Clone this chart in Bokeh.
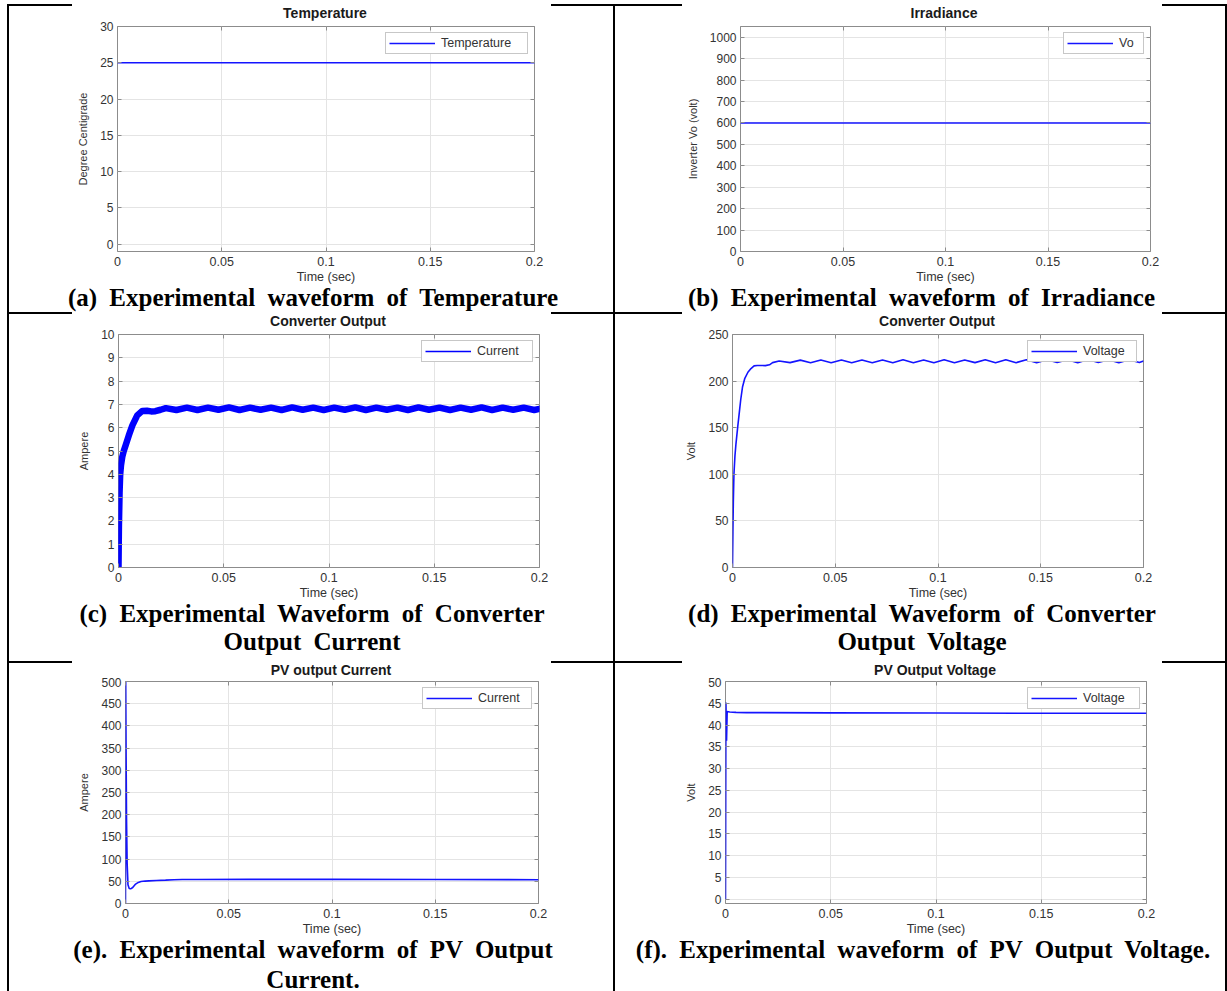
from bokeh.plotting import figure
from bokeh.models import FixedTicker, LinearAxis, Legend, LegendItem, Div, Range1d
from bokeh.layouts import row, column
from bokeh.embed import file_html
from bokeh.resources import INLINE

# ---------------- data ----------------
time_ticks = [0, 0.05, 0.1, 0.15, 0.2]
time_tick_labels = ["0", "0.05", "0.1", "0.15", "0.2"]

temp_t = [0.0, 0.2]
temp_v = [25.0, 25.0]

irr_t = [0.0, 0.2]
irr_v = [600.0, 600.0]

conv_i_t = [0.0, 0.0002, 0.0005, 0.0008, 0.0012, 0.0018, 0.0025, 0.0034, 0.0049, 0.0066,
            0.0089, 0.0113, 0.0135, 0.0155, 0.0175, 0.0200,
            0.0225, 0.0275, 0.0325, 0.0375, 0.0425, 0.0475, 0.0525, 0.0575, 0.0625, 0.0675,
            0.0725, 0.0775, 0.0825, 0.0875, 0.0925, 0.0975, 0.1025, 0.1075, 0.1125, 0.1175,
            0.1225, 0.1275, 0.1325, 0.1375, 0.1425, 0.1475, 0.1525, 0.1575, 0.1625, 0.1675,
            0.1725, 0.1775, 0.1825, 0.1875, 0.1925, 0.1975, 0.2]
conv_i_v = [0.0, 1.8, 3.2, 4.0, 4.4, 4.75, 5.0, 5.25, 5.67, 6.1,
            6.53, 6.72, 6.73, 6.70, 6.71, 6.77,
            6.84, 6.76, 6.86, 6.76, 6.86, 6.77, 6.87, 6.76, 6.86, 6.77,
            6.86, 6.76, 6.87, 6.77, 6.86, 6.76, 6.86, 6.77, 6.87, 6.76,
            6.86, 6.77, 6.86, 6.76, 6.87, 6.77, 6.86, 6.76, 6.86, 6.77,
            6.87, 6.76, 6.86, 6.77, 6.86, 6.76, 6.81]

conv_v_t = [0.0, 0.0002, 0.0004, 0.0007, 0.0012, 0.0017, 0.0025, 0.0032, 0.0040, 0.0049,
            0.0060, 0.0075, 0.0090, 0.0105, 0.0120, 0.0140, 0.0160, 0.0180, 0.0195, 0.0227,
            0.028, 0.033, 0.038, 0.043, 0.048, 0.053, 0.058, 0.063, 0.068, 0.073,
            0.078, 0.083, 0.088, 0.093, 0.098, 0.103, 0.108, 0.113, 0.118, 0.123,
            0.128, 0.133, 0.138, 0.143, 0.148, 0.153, 0.158, 0.163, 0.168, 0.173,
            0.178, 0.183, 0.188, 0.193, 0.198, 0.2]
conv_v_v = [0.0, 38, 70, 100, 120, 133, 150, 164, 180, 194,
            203, 209.5, 213.5, 216.3, 216.8, 216.8, 216.6, 217.5, 219.8, 221.6,
            219.8, 222.5, 219.6, 222.6, 219.7, 222.7, 219.6, 222.6, 219.7, 222.7,
            219.6, 222.8, 219.7, 222.7, 219.6, 222.8, 219.7, 222.7, 219.8, 222.8,
            219.7, 222.9, 219.8, 223.0, 219.8, 223.0, 219.9, 223.0, 219.8, 223.1,
            219.9, 223.0, 219.8, 223.0, 219.9, 221.5]

pv_i_t = [0.0, 0.0001, 0.0003, 0.0005, 0.0008, 0.0012, 0.0018, 0.0025, 0.0035, 0.0049,
          0.0062, 0.0075, 0.0095, 0.0113, 0.0150, 0.0194, 0.0235, 0.0275, 0.035, 0.06,
          0.1, 0.15, 0.2]
pv_i_v = [0.0, 505, 330, 190, 90, 42, 34, 33, 36, 43.7,
          47.5, 49.5, 50.5, 51.0, 51.8, 52.6, 53.5, 54.0, 54.0, 54.3,
          54.5, 54.2, 53.5]

pv_v_t = [0.0, 0.0002, 0.0005, 0.0008, 0.002, 0.005, 0.01, 0.05, 0.1, 0.15, 0.2]
pv_v_v = [0.0, 45.2, 36.4, 43.1, 43.0, 42.9, 42.85, 42.8, 42.75, 42.7, 42.7]

assert len(conv_i_t) == len(conv_i_v)
assert len(conv_v_t) == len(conv_v_v)
assert len(pv_i_t) == len(pv_i_v)
assert len(pv_v_t) == len(pv_v_v)

# ---------------- styling / geometry ----------------
BLUE = "#1414ff"
AX_COLOR = "#8c8c8c"
GRID_COLOR = "#e4e4e4"
TXT = "#333333"
SANS = "Liberation Sans"

PAGE_W = 1227
LEFT_W, RIGHT_W = 604, 610
ROW_H = [306, 347, 328]


def centered_html(text_html, W, cx, font, size, weight, lh, color, shift=0, word_spacing=0):
    d = cx - W / 2.0
    pad = f"padding-left:{2 * d:.1f}px;" if d >= 0 else f"padding-right:{-2 * d:.1f}px;"
    return (f'<div style="box-sizing:border-box;width:{W}px;{pad}text-align:center;'
            f"font-family:'{font}';font-size:{size}px;font-weight:{weight};"
            f'line-height:{lh}px;color:{color};white-space:nowrap;word-spacing:{word_spacing}px;'
            f'position:relative;top:{shift}px;">{text_html}</div>')


def make_cell(W, H, title_h, title_lh, cap_top, cap_lh, cap_shift, frame, yrange, yticks,
              ylabel, title, title_cx, captions, cap_cx, series_t, series_v,
              legend_label, legend_w, band=False):
    fl, ft, fr, fb = frame          # frame edges in cell coordinates
    F = cap_top - title_h            # figure height
    p = figure(width=W, height=F, x_range=Range1d(0, 0.2), y_range=Range1d(*yrange),
               output_backend="svg", toolbar_location=None, title=None,
               min_border_left=fl, min_border_right=W - fr,
               min_border_top=ft - title_h, min_border_bottom=F - (fb - title_h),
               margin=0)
    p.background_fill_color = "white"
    p.border_fill_color = "white"
    p.outline_line_color = AX_COLOR
    p.outline_line_width = 1

    xa = p.xaxis[0]
    ya = p.yaxis[0]
    for ax, ticks, labels in ((xa, time_ticks, time_tick_labels),
                              (ya, yticks, [str(v) for v in yticks])):
        ax.ticker = FixedTicker(ticks=ticks)
        ax.major_label_overrides = {t: l for t, l in zip(ticks, labels)}
        ax.major_tick_in = 4
        ax.major_tick_out = 0
        ax.major_tick_line_color = AX_COLOR
        ax.minor_tick_line_color = None
        ax.axis_line_color = None
        ax.major_label_text_font = SANS
        ax.major_label_text_color = TXT
        ax.axis_label_text_font = SANS
        ax.axis_label_text_font_style = "normal"
        ax.axis_label_text_color = TXT
    xa.major_label_text_font_size = "12.5px"
    ya.major_label_text_font_size = "12px"
    xa.axis_label_text_font_size = "12.5px"
    ya.axis_label_text_font_size = "11px"
    xa.major_label_standoff = 5
    ya.major_label_standoff = 4
    xa.axis_label = "Time (sec)"
    xa.axis_label_standoff = 1
    ya.axis_label = ylabel
    ya.axis_label_standoff = 8

    for ticks, loc in ((time_ticks, "above"), (yticks, "right")):
        ax = LinearAxis(ticker=FixedTicker(ticks=ticks),
                        major_label_overrides={t: "" for t in ticks},
                        major_label_text_font_size="1px",
                        major_tick_in=4, major_tick_out=0,
                        major_tick_line_color=AX_COLOR,
                        minor_tick_line_color=None, axis_line_color=None,
                        major_label_standoff=0)
        p.add_layout(ax, loc)

    p.xgrid.grid_line_color = GRID_COLOR
    p.ygrid.grid_line_color = GRID_COLOR

    if band:
        p.line(series_t, series_v, line_color="#0000ff", line_width=6.5,
               line_join="round", line_cap="round")
        r = p.line(series_t, series_v, line_color="#0000ff", line_width=1.6)
    else:
        r = p.line(series_t, series_v, line_color=BLUE, line_width=1.6)

    leg = Legend(items=[LegendItem(label=legend_label, renderers=[r])],
                 location="top_right", margin=6, padding=3, spacing=0,
                 glyph_width=46, glyph_height=12, label_height=12,
                 label_width=legend_w - 58, label_standoff=6,
                 label_text_font=SANS, label_text_font_size="12.5px",
                 label_text_color=TXT, border_line_color="#8f8f8f",
                 border_line_width=1, background_fill_color="white",
                 background_fill_alpha=1.0)
    p.add_layout(leg)

    title_div = Div(text=centered_html(title, W, title_cx, SANS, 14, "bold", title_lh, "#1a1a1a"),
                    width=W, height=title_h, margin=0, styles={"overflow": "visible"})
    cap_div = Div(text=centered_html("<br>".join(captions), W, cap_cx, "Liberation Serif", 25,
                                     "bold", cap_lh, "#000000", cap_shift, 6),
                  width=W, height=H - cap_top, margin=0, styles={"overflow": "visible"})
    return column(title_div, p, cap_div, spacing=0, margin=0)


ca = make_cell(LEFT_W, ROW_H[0], 14, 14, 282, 20, 0, (108, 20, 525, 245), (-1, 30),
               [0, 5, 10, 15, 20, 25, 30], "Degree Centigrade", "Temperature", 316,
               ["(a) Experimental waveform of Temperature"], 304,
               temp_t, temp_v, "Temperature", 141)
cb = make_cell(RIGHT_W, ROW_H[0], 14, 14, 282, 20, 0, (125, 20, 535, 245), (0, 1050),
               [0, 100, 200, 300, 400, 500, 600, 700, 800, 900, 1000],
               "Inverter Vo (volt)", "Irradiance", 329,
               ["(b) Experimental waveform of Irradiance"], 306.5,
               irr_t, irr_v, "Vo", 79)
cc = make_cell(LEFT_W, ROW_H[1], 14, 14, 291, 28, -5, (109, 20, 530, 253), (0, 10),
               list(range(0, 11)), "Ampere", "Converter Output", 319,
               ["(c) Experimental Waveform of Converter", "Output Current"], 303,
               conv_i_t, conv_i_v, "Current", 110, band=True)
cd = make_cell(RIGHT_W, ROW_H[1], 14, 14, 291, 28, -5, (117, 20, 528, 253), (0, 250),
               [0, 50, 100, 150, 200, 250], "Volt", "Converter Output", 322,
               ["(d) Experimental Waveform of Converter", "Output Voltage"], 307,
               conv_v_t, conv_v_v, "Voltage", 108)
ce = make_cell(LEFT_W, ROW_H[2], 14, 10, 277, 30, -5, (116, 18, 529, 240), (0, 500),
               [0, 50, 100, 150, 200, 250, 300, 350, 400, 450, 500],
               "Ampere", "PV output Current", 322,
               ["(e). Experimental waveform of PV Output", "Current."], 304,
               pv_i_t, pv_i_v, "Current", 108)
cf = make_cell(RIGHT_W, ROW_H[2], 14, 10, 277, 30, -5, (110, 18, 531, 240), (-1, 50),
               [0, 5, 10, 15, 20, 25, 30, 35, 40, 45, 50],
               "Volt", "PV Output Voltage", 320,
               ["(f). Experimental waveform of PV Output Voltage."], 308,
               pv_v_t, pv_v_v, "Voltage", 111)

GRAD = ("linear-gradient(to right, transparent 0px, transparent 7px, #000 7px, #000 72px, "
        "transparent 72px, transparent 551px, #000 551px, #000 682px, "
        "transparent 682px, transparent 1162px, #000 1162px, #000 100%)")


def hline():
    return Div(text="", width=PAGE_W, height=2, margin=0, styles={"background": GRAD})


def vline(h):
    return Div(text="", width=2, height=h, margin=0, styles={"background-color": "#000"})


def spacer(w, h):
    return Div(text="", width=w, height=h, margin=0)


def table_row(h, left, right):
    return row(spacer(7, h), vline(h), left, vline(h), right, vline(h), spacing=0, margin=0)


layout = column(
    spacer(PAGE_W, 4),
    hline(),
    table_row(ROW_H[0], ca, cb),
    hline(),
    table_row(ROW_H[1], cc, cd),
    hline(),
    table_row(ROW_H[2], ce, cf),
    spacing=0, margin=0,
)

open("out.html", "w").write(file_html(layout, INLINE))
